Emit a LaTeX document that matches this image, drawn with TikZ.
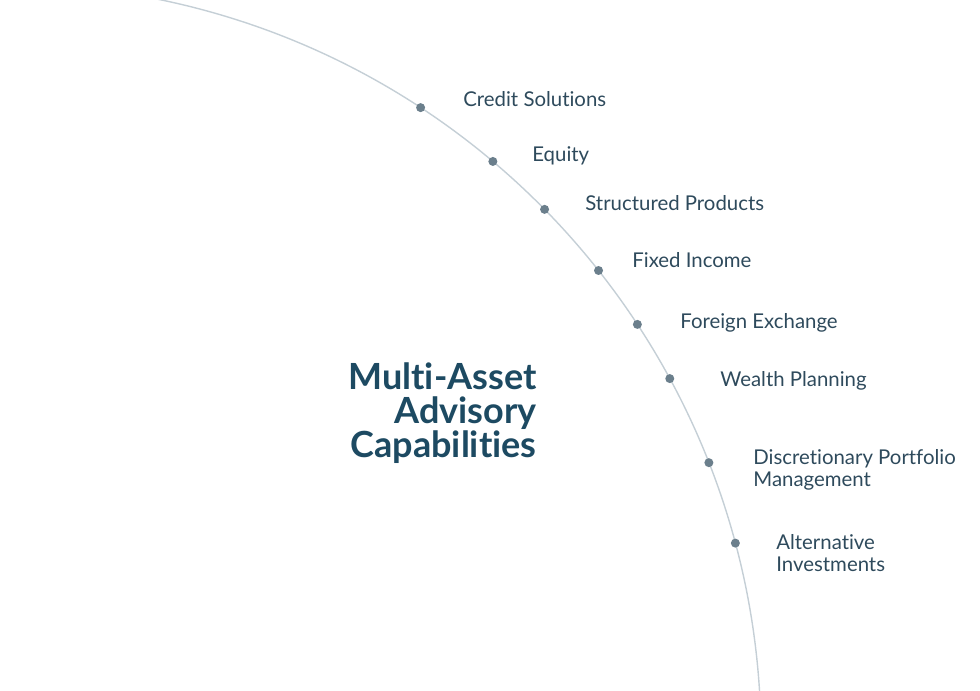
\documentclass[tikz,border=0pt]{standalone}
\usepackage{fontspec}
\setmainfont{Lato}[Ligatures={NoCommon}]
\usepackage{tikz}

\definecolor{arcgray}{HTML}{C5CFD6}
\definecolor{dotgray}{HTML}{6B7F8C}
\definecolor{labelblue}{HTML}{2E4A5C}
\definecolor{titleblue}{HTML}{1D4A62}

\begin{document}
\begin{tikzpicture}[x=0.02cm,y=0.02cm,
  arcline/.style={draw=arcgray, line width=0.8pt},
  dot/.style={circle, fill=dotgray, inner sep=0pt, minimum size=0.18cm},
  lbl/.style={text=labelblue, inner sep=0pt, align=left,
    font=\fontsize{11.6}{12.5}\selectfont},
  title/.style={text=titleblue, inner sep=0pt, align=right,
    font=\fontsize{20.5}{19.4}\selectfont\bfseries}]
\useasboundingbox (0,0) rectangle (980,690);
\clip (0,0) rectangle (980,690);

% centre of the big circle, below the picture
\coordinate (o) at (7,-48);
\draw[arcline] (o) ++(80:754) arc (80:2:754);

% dots on the arc
\path (o) ++(56.73:754) node[dot] (d1) {};
\path (o) ++(49.88:754) node[dot] (d2) {};
\path (o) ++(44.52:754) node[dot] (d3) {};
\path (o) ++(38.32:754) node[dot] (d4) {};
\path (o) ++(33.27:754) node[dot] (d5) {};
\path (o) ++(28.47:754) node[dot] (d6) {};
\path (o) ++(21.42:754) node[dot] (d7) {};
\path (o) ++(14.98:754) node[dot] (d8) {};

% labels
\node[lbl, anchor=base west] (credit) at (463,583) {Credit Solutions};
\node[lbl, anchor=base west] (equity) at (532,528) {Equity};
\node[lbl, anchor=base west] (structured) at (585,479) {Structured Products};
\node[lbl, anchor=base west] (fixed) at (632,422) {Fixed Income};
\node[lbl, anchor=base west] (forex) at (680,361) {Foreign Exchange};
\node[lbl, anchor=base west] (wealth) at (720,303) {Wealth Planning};
\node[lbl, anchor=north west] (discretionary) at (753,240.5) {Discretionary Portfolio\\Management};
\node[lbl, anchor=north west] (alternative) at (776,155.5) {Alternative\\Investments};

\node[title, anchor=north east] (title) at (537,328) {Multi-Asset\\Advisory\\Capabilities};
\end{tikzpicture}
\end{document}
